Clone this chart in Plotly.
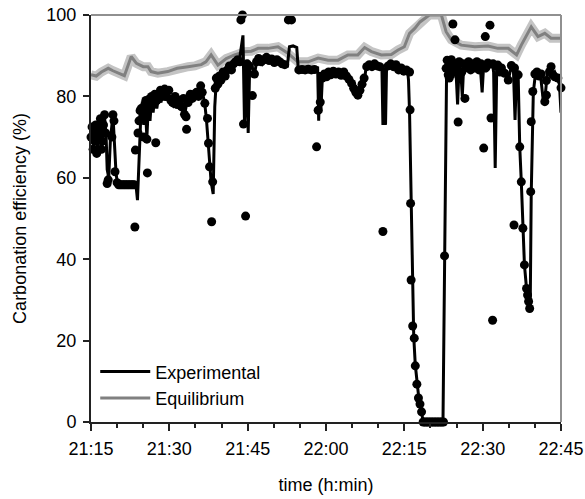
import pandas as pd
import plotly.graph_objects as go

START = pd.Timestamp("2000-01-01 21:15")
END = START + pd.Timedelta(minutes=90)

# ---- Experimental line (minutes after 21:15, carbonation efficiency %) ----
exp_line_min = [0.0, 0.3, 0.5, 0.8, 1.0, 1.2, 1.5, 1.8, 2.0, 2.3, 2.6, 2.9, 3.1, 3.4, 3.7, 4.2, 4.5, 4.8,
                5.1, 6.0, 7.0, 8.0, 8.6, 8.9, 9.2, 9.5, 9.8, 10.1, 10.4, 10.7, 11.0, 11.3, 11.6, 11.9,
                12.2, 12.6, 13.0, 13.4, 13.8, 14.2, 14.7, 15.2, 15.8, 16.4, 17.0, 17.5, 17.9, 18.3, 18.7,
                19.2, 19.7, 20.2, 20.7, 21.1, 21.5, 21.8, 22.1, 22.4, 22.7, 23.0, 23.4, 23.7, 24.0, 24.5,
                25.0, 25.5, 26.0, 26.5, 27.0, 27.5, 28.0, 28.5, 29.1, 29.4, 29.8, 30.1, 30.4, 30.8, 31.3,
                31.7, 32.2, 32.8, 33.4, 34.0, 34.6, 35.2, 35.8, 36.4, 36.9, 37.6, 38.0, 38.7, 39.4, 39.7,
                40.5, 41.5, 42.5, 43.4, 43.6, 43.8, 44.0, 44.3, 44.8, 45.4, 46.0, 46.6, 47.3, 48.0, 48.7,
                49.3, 49.9, 50.5, 51.1, 51.8, 52.4, 52.7, 53.2, 53.7, 54.3, 55.0, 55.7, 55.9, 56.1, 56.4,
                56.6, 57.2, 57.8, 58.4, 59.0, 59.6, 60.2, 60.6, 60.8, 61.0, 61.2, 61.4, 61.6, 61.8, 62.1,
                62.4, 62.8, 63.2, 63.7, 64.5, 65.5, 66.5, 67.4, 68.1, 68.4, 68.7, 69.0, 69.3, 69.6, 69.9,
                70.2, 70.5, 70.8, 71.1, 71.4, 71.7, 72.1, 72.5, 72.9, 73.3, 73.7, 74.1, 74.5, 74.9, 75.2,
                75.6, 76.0, 76.4, 76.8, 77.1, 77.4, 77.7, 78.1, 78.6, 79.2, 79.9, 80.5, 80.9, 81.2, 81.5,
                81.8, 82.1, 82.4, 82.7, 83.0, 83.4, 83.8, 84.1, 84.3, 84.5, 84.7, 85.1, 85.6, 86.1, 86.6,
                87.0, 87.4, 87.9, 88.3, 88.8, 89.3, 89.7, 90.0]
exp_line_val = [70, 72.5, 68, 71, 73, 66, 70, 74, 67, 72, 75, 70, 62, 60, 69, 75.5, 66, 61,
                58.5, 58.3, 58.3, 58.3, 58.3, 54.5, 67, 74, 77, 73, 77.5, 70, 78, 74, 79.5, 76,
                80, 77, 80.5, 78.5, 81, 79, 80.5, 78, 77.5, 78.5, 77, 76.5, 75.5, 78, 79.5,
                79, 80.5, 80, 81.5, 82.8, 80, 78, 74.5, 69, 63, 59, 56, 77.5, 84, 84.5,
                85.2, 85.5, 86.5, 87, 87.5, 88.4, 89, 89.6, 95, 73, 88, 71, 88, 87.5, 85.3,
                88.5, 89, 88, 89.5, 88.5, 89.2, 88.5, 89, 88.3, 87.7, 87.5, 92.2, 92.4, 92, 86.5,
                87, 87, 87, 87, 74, 86, 76, 84.5, 85.5, 86, 85.5, 86.5, 85.5, 86.2, 85.5,
                84.5, 83.2, 81.6, 80.3, 82, 84.4, 87.3, 87.8, 87.3, 88, 87.3, 87.5, 73, 87, 73,
                87.5, 88, 87.2, 87.8, 86.5, 87, 86, 86.5, 84, 76, 60, 45, 28, 21, 14,
                9.5, 5.5, 2.5, 0, 0, 0, 0, 0, 87, 89, 85.5, 88.5, 84.5, 88, 86,
                78, 88, 86.5, 80, 88.5, 86, 88, 87, 88.5, 86.5, 88, 86, 88, 81, 88,
                86, 88.5, 87, 88.5, 86, 62.4, 87.5, 86.5, 87, 85.7, 84, 87.5, 86, 74.2, 86.5,
                85, 67.6, 59, 47.6, 38.6, 32.8, 29.6, 27.5, 56, 74, 81, 85.5, 86, 85, 79,
                80.5, 86, 87, 85.3, 86, 84.5, 83, 76]

# ---- Experimental measured points ----
exp_pts_min = [0.0, 0.2, 0.4, 0.5, 0.7, 0.9, 1.1, 1.3, 1.6, 1.8, 2.0, 2.2, 2.4, 2.6, 2.8, 3.1, 3.3, 4.0,
               4.2, 4.4, 4.6, 5.0, 5.3, 5.6, 5.9, 6.2, 6.5, 6.8, 7.1, 7.4, 7.7, 8.0, 8.3, 8.4, 8.5, 9.0,
               9.2, 9.4, 9.6, 9.9, 10.1, 10.3, 10.5, 10.7, 10.8, 11.0, 11.3, 11.6, 11.9, 12.2, 12.4, 12.6,
               12.9, 13.3, 13.7, 14.1, 14.5, 14.9, 15.3, 15.7, 16.1, 16.5, 16.9, 17.3, 17.7, 17.9, 18.2,
               18.3, 18.6, 19.0, 19.4, 19.8, 20.2, 20.6, 21.0, 21.3, 21.8, 22.3, 22.5, 22.7, 23.1, 23.3,
               23.8, 24.0, 24.3, 24.6, 24.9, 25.3, 25.7, 26.1, 26.5, 26.9, 27.3, 27.7, 28.1, 28.5, 28.7,
               29.0, 29.2, 29.6, 29.9, 30.3, 30.9, 31.3, 31.7, 32.1, 32.6, 33.1, 33.6, 34.1, 34.6, 35.1,
               35.6, 36.1, 36.6, 37.1, 37.8, 38.4, 39.8, 40.4, 41.0, 41.6, 42.2, 42.8, 43.2, 43.5, 43.9,
               44.3, 44.7, 45.1, 45.5, 45.9, 46.4, 46.9, 47.4, 47.9, 48.4, 48.9, 49.4, 49.9, 50.3, 50.7,
               51.1, 51.5, 51.9, 52.3, 52.8, 53.3, 53.8, 54.3, 54.8, 55.3, 55.9, 56.9, 57.4, 57.9, 58.4,
               58.9, 59.4, 59.9, 60.4, 61.0, 61.1, 61.2, 61.3, 61.6, 61.9, 62.1, 62.4, 62.7, 63.0, 63.3,
               63.6, 63.9, 64.2, 64.5, 64.8, 65.1, 65.4, 65.7, 66.0, 66.3, 66.6, 66.9, 67.2, 67.5, 67.7,
               68.0, 68.2, 68.4, 68.6, 69.0, 69.3, 69.4, 69.7, 69.8, 70.1, 70.3, 70.5, 70.8, 71.0, 71.3,
               71.6, 71.9, 72.3, 72.7, 73.1, 73.5, 73.9, 74.3, 74.7, 75.2, 75.5, 75.6, 76.0, 76.4, 76.6,
               76.9, 77.0, 77.5, 77.9, 78.3, 78.6, 79.2, 79.9, 80.5, 81.0, 81.1, 81.8, 82.1, 82.4, 82.7,
               83.0, 83.4, 83.6, 83.8, 84.0, 84.2, 84.3, 84.6, 85.0, 85.4, 85.8, 86.2, 86.9, 87.2, 87.2,
               87.8, 88.1, 88.4, 88.8, 89.4, 90.0]
exp_pts_val = [70, 72.5, 67, 71, 69, 73, 66, 70, 72, 74.5, 67, 69, 73, 75.5, 71, 58.6, 59.5, 70,
               75.5, 74, 61.5, 58.8, 58.3, 58.3, 58.3, 58.3, 58.3, 58.3, 58.3, 58.3, 58.3, 58.3, 58.3, 47.9, 66.8, 71,
               74, 76.5, 77, 75, 70, 78, 79, 69.5, 61.2, 77, 79.5, 80, 78, 80.5, 68.6, 79,
               80.5, 81.5, 80, 81.8, 80, 81.5, 79, 78.5, 80, 78, 79, 77.5, 79.5, 75.6, 75,
               71.9, 78.5, 80.5, 79.5, 80.5, 81, 80, 82.6, 81, 78.3, 74.6, 68.5, 62.7, 49.2, 59,
               82, 84.5, 83, 85, 84, 86, 85, 86.5, 87.5, 86.5, 88, 88.5, 89, 88.5, 98.8,
               100, 73.2, 50.6, 88, 87.5, 80.2, 85.5, 88.5, 89.3, 88.5, 89, 89.6, 88.8, 89.2, 88.3,
               89, 88.5, 88, 87.8, 98.8, 98.8, 86.5, 86.6, 86.5, 86.7, 86.5, 86.6, 67.6, 76.6, 78.6,
               84.5, 85.5, 84.8, 86, 85.3, 86.2, 85.5, 86, 85.2, 86, 85, 84.2, 83.2, 82, 81,
               80.3, 81.5, 83, 84.5, 87.3, 87.8, 87.3, 88, 87.5, 87.3, 46.8, 87.5, 88, 87.3, 87.8,
               86.5, 87, 86.2, 86.5, 86, 76.7, 53.7, 34.9, 23.6, 20.6, 13.8, 9.3, 5.9, 4.4, 2.5,
               0, 0, 0, 0, 0, 0, 0, 0, 0, 0, 0, 0, 0, 0, 40.8,
               86.9, 88.9, 85.3, 84.5, 89, 97.8, 86, 93.9, 88, 86.5, 73.7, 88.5, 100.4, 86, 88,
               79.5, 87.5, 88.5, 86.5, 88, 87, 88.5, 86.5, 88, 67.3, 94.7, 87, 88.2, 97.5, 74.7,
               25, 88, 87.5, 87.7, 86, 87, 85.7, 84, 87.6, 48.4, 87, 85.3, 67.6, 59, 47.6,
               38.6, 32.8, 31.2, 29.6, 27.9, 56.6, 73.8, 81.2, 85.5, 86, 85, 85.5, 78.7, 80.3, 83.9,
               86.1, 87.3, 85.3, 84.8, 84.5, 82.1]

# ---- Equilibrium curve ----
eq_min = [0.0, 1.0, 2.0, 3.3, 4.2, 5.2, 6.4, 7.7, 8.7, 10.0, 10.9, 11.5, 12.8, 14.7, 16.5, 18.6, 19.9,
          21.1, 22.0, 23.0, 24.3, 25.9, 27.5, 29.4, 30.7, 32.0, 33.9, 35.8, 37.7, 39.6, 41.6, 43.5,
          45.4, 47.3, 49.2, 51.1, 52.4, 53.7, 55.6, 57.5, 58.8, 60.0, 61.0, 62.0, 63.0, 63.9, 64.8,
          66.0, 67.1, 68.0, 69.0, 70.9, 73.5, 76.0, 77.9, 79.9, 81.5, 82.4, 84.3, 85.6, 86.9, 88.1, 90.0]
eq_val = [85.3, 85.0, 86.0, 86.9, 86.3, 85.7, 85.1, 89.8, 88.1, 87.3, 87.3, 86.1, 85.7, 86.1, 86.9, 87.3, 87.5,
          87.8, 88.5, 90.2, 87.7, 89.3, 90.2, 91.0, 91.1, 91.8, 91.8, 92.2, 90.6, 88.5, 88.5, 89.4,
          88.9, 88.9, 90.2, 90.2, 92.0, 91.0, 90.2, 90.3, 91.4, 92.2, 95.5, 96.7, 98.3, 99.2, 100,
          100, 100, 95.9, 93.9, 92.6, 92.2, 92.4, 91.8, 91.8, 90.2, 92.6, 97.1, 94.7, 95.5, 94.3, 94.3]

Y_TICKS = [0, 20, 40, 60, 80, 100]


def to_time(mins):
    return [START + pd.Timedelta(minutes=m) for m in mins]


FONT = "Liberation Sans, Arial, sans-serif"

fig = go.Figure()
fig.add_trace(go.Scatter(x=to_time(eq_min), y=eq_val, mode="lines",
                         line=dict(color="#c4c4c4", width=9), showlegend=False, hoverinfo="skip"))
fig.add_trace(go.Scatter(x=to_time(eq_min), y=eq_val, mode="lines", name="Equilibrium",
                         line=dict(color="#808080", width=3), legendrank=2))
fig.add_trace(go.Scatter(x=to_time(exp_line_min), y=exp_line_val, mode="lines", name="Experimental",
                         line=dict(color="black", width=3), legendrank=1))
fig.add_trace(go.Scatter(x=to_time(exp_pts_min), y=exp_pts_val, mode="markers", showlegend=False,
                         marker=dict(color="black", size=9), cliponaxis=False))

fig.update_layout(
    width=585, height=499,
    margin=dict(l=91, r=24, t=15, b=77),
    paper_bgcolor="white", plot_bgcolor="white",
    font=dict(family=FONT, size=18, color="black"),
    showlegend=True,
    legend=dict(x=0.009, y=0.014, xanchor="left", yanchor="bottom", bgcolor="rgba(0,0,0,0)",
                font=dict(size=18), tracegroupgap=0, itemwidth=50),
    shapes=[
        dict(type="line", xref="paper", yref="paper", x0=0, x1=1, y0=1, y1=1,
             line=dict(color="#909090", width=2)),
        dict(type="line", xref="paper", yref="paper", x0=1, x1=1, y0=0, y1=1,
             line=dict(color="#909090", width=2)),
    ],
)
fig.update_xaxes(type="date", range=[START, END], tick0=START, dtick=900000, tickformat="%H:%M",
                 automargin=False, ticklabelstandoff=2,
                 ticks="outside", ticklen=7, tickwidth=1.5, tickcolor="#222",
                 showline=True, linecolor="#222", linewidth=2, showgrid=False, zeroline=False,
                 minor=dict(dtick=300000, ticks="outside", ticklen=4, tickwidth=1.5, tickcolor="#222",
                            showgrid=False),
                 title=dict(text="time (h:min)", standoff=21, font=dict(size=18)))
fig.update_yaxes(range=[0, 100], tickvals=Y_TICKS, ticks="outside", ticklen=6, tickwidth=1.5,
                 automargin=False, ticklabelstandoff=3,
                 tickcolor="#222", showline=True, linecolor="#222", linewidth=2, showgrid=False,
                 zeroline=False,
                 title=dict(text="Carbonation efficiency (%)", standoff=15, font=dict(size=18)))

# remove the default page margin so the 585x499 figure fills the window exactly
fig.write_html("out.html", config={"displayModeBar": False},
               post_script="document.body.style.margin='0';")
